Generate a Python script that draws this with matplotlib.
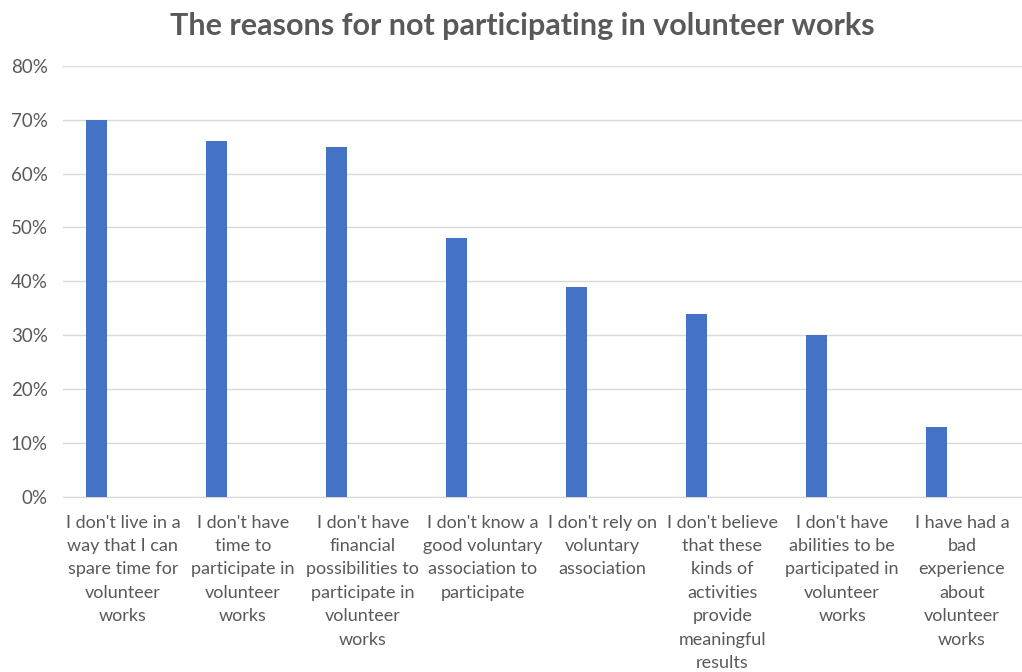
import matplotlib
matplotlib.use("Agg")
import matplotlib.pyplot as plt
import numpy as np
from matplotlib.ticker import PercentFormatter

categories = [
    "I don't live in a\nway that I can\nspare time for\nvolunteer\nworks",
    "I don't have\ntime to\nparticipate in\nvolunteer\nworks",
    "I don't have\nfinancial\npossibilities to\nparticipate in\nvolunteer\nworks",
    "I don't know a\ngood voluntary\nassociation to\nparticipate",
    "I don't rely on\nvoluntary\nassociation",
    "I don't believe\nthat these\nkinds of\nactivities\nprovide\nmeaningful\nresults",
    "I don't have\nabilities to be\nparticipated in\nvolunteer\nworks",
    "I have had a\nbad\nexperience\nabout\nvolunteer\nworks",
]
shares = [0.70, 0.66, 0.65, 0.48, 0.39, 0.34, 0.30, 0.13]
y_ticks = [0.0, 0.1, 0.2, 0.3, 0.4, 0.5, 0.6, 0.7, 0.8]

text_color = "#595959"
bar_color = "#4472C4"
grid_color = "#D9D9D9"

plt.rcParams["font.family"] = ["Lato", "DejaVu Sans"]

fig = plt.figure(figsize=(10.22, 6.72), dpi=100)
ax = fig.add_axes([0.0616, 0.261, 0.9384, 0.641])

x = np.arange(len(categories))
ax.bar(x - 0.217, shares, width=0.175, color=bar_color, zorder=3)

ax.set_xlim(-0.5, len(categories) - 0.5)
ax.set_ylim(0, 0.8)
ax.set_yticks(y_ticks)
ax.yaxis.set_major_formatter(PercentFormatter(1.0, decimals=0))
ax.set_xticks(x)
ax.set_xticklabels(categories, linespacing=1.57)

ax.grid(axis="y", color=grid_color, linewidth=1, zorder=0)
for side in ["top", "right", "left"]:
    ax.spines[side].set_visible(False)
ax.spines["bottom"].set_color(grid_color)
ax.tick_params(axis="both", length=0, colors=text_color)
ax.tick_params(axis="y", pad=11, labelsize=13.5)
ax.tick_params(axis="x", pad=13, labelsize=13)

fig.text(0.511, 0.961, "The reasons for not participating in volunteer works",
         ha="center", va="center", fontsize=22, fontweight="bold",
         color=text_color)

fig.savefig("out.png", dpi=100, facecolor="white")
